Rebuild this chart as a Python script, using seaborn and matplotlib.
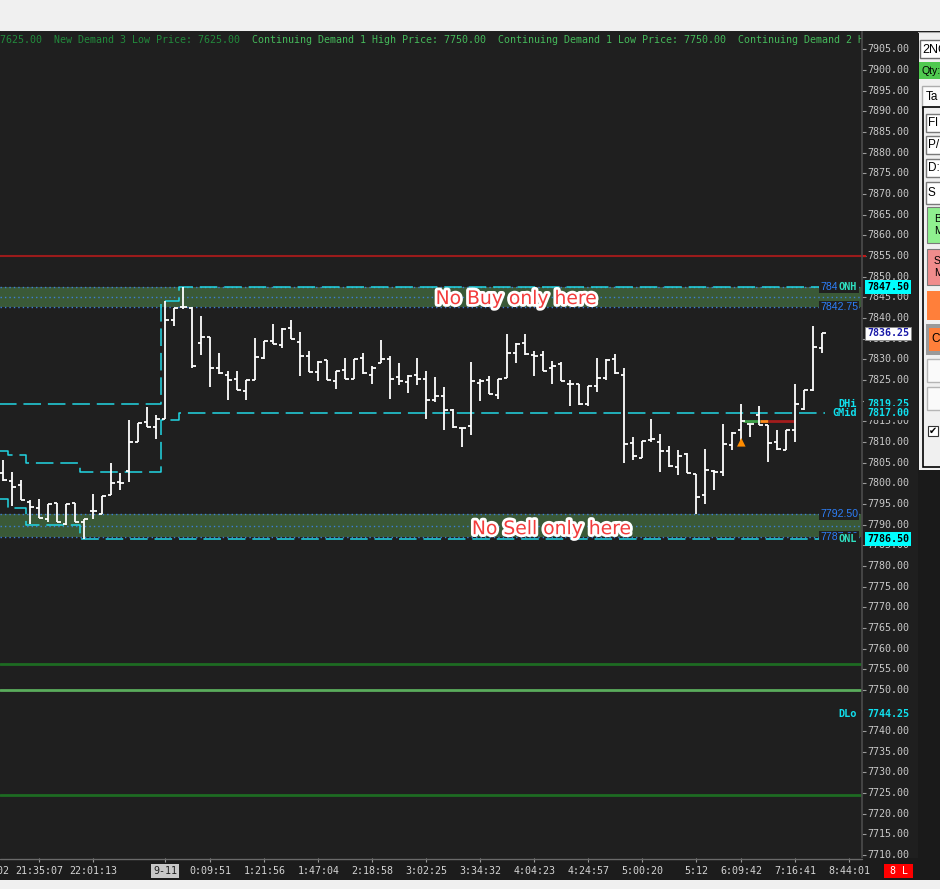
import matplotlib
matplotlib.use("Agg")
import matplotlib.pyplot as plt
import matplotlib.patheffects as pe
from matplotlib.patches import Rectangle
from matplotlib.transforms import blended_transform_factory
import numpy as np
import seaborn as sns

# ---- OHLC bars (one entry per bar) ----
bar_open = [7802.5, 7800.5, 7799.5, 7795.5, 7794.0, 7791.25, 7795.25, 7790.25, 7795.25, 7790.5,
            7793.25, 7792.5, 7797.25, 7800.25, 7803.0, 7810.0, 7814.75, 7813.5, 7815.5, 7839.5,
            7842.75, 7842.5, 7834.0, 7835.5, 7828.0, 7826.25, 7825.25, 7822.25, 7825.0, 7830.25,
            7834.5, 7833.5, 7837.5, 7834.25, 7830.75, 7827.0, 7829.75, 7824.75, 7827.5, 7825.25,
            7830.25, 7826.25, 7829.0, 7830.0, 7825.75, 7824.5, 7826.25, 7825.25, 7820.25, 7821.0,
            7817.75, 7813.25, 7813.75, 7824.25, 7825.0, 7821.25, 7825.5, 7831.5, 7834.0, 7831.0,
            7831.0, 7828.0, 7828.75, 7824.0, 7824.0, 7819.25, 7823.5, 7825.5, 7830.0, 7826.25,
            7809.75, 7806.0, 7810.5, 7810.0, 7807.75, 7804.0, 7807.0, 7802.25, 7797.25, 7803.0,
            7802.75, 7809.25, 7813.0, 7814.25, 7816.5, 7814.0, 7810.0, 7808.0, 7813.0, 7818.0,
            7822.5, 7832.75]
bar_high = [7805.5, 7802.75, 7800.75, 7796.0, 7796.25, 7795.0, 7795.25, 7795.0, 7795.25, 7791.25,
            7797.5, 7797.0, 7805.0, 7802.5, 7815.25, 7814.5, 7818.5, 7816.5, 7844.0, 7842.5,
            7847.5, 7842.75, 7840.5, 7835.5, 7831.5, 7827.25, 7827.25, 7825.0, 7835.25, 7834.5,
            7838.5, 7837.5, 7839.5, 7836.5, 7832.0, 7829.5, 7829.75, 7827.25, 7830.25, 7830.0,
            7831.5, 7828.25, 7834.75, 7830.75, 7829.0, 7826.25, 7830.25, 7827.25, 7825.75, 7823.25,
            7818.0, 7813.25, 7829.25, 7825.25, 7826.0, 7825.25, 7836.0, 7834.0, 7836.0, 7832.0,
            7832.0, 7829.5, 7829.25, 7825.0, 7824.0, 7823.5, 7830.25, 7830.0, 7831.25, 7828.0,
            7811.25, 7810.25, 7815.5, 7812.0, 7809.0, 7808.0, 7807.25, 7802.25, 7808.25, 7803.25,
            7814.25, 7812.5, 7819.25, 7814.25, 7818.75, 7814.0, 7813.0, 7813.0, 7824.0, 7822.5,
            7838.0, 7836.25]
bar_low = [7800.5, 7794.5, 7796.0, 7790.25, 7791.5, 7790.5, 7790.5, 7790.0, 7790.5, 7786.5,
           7791.25, 7792.5, 7797.25, 7798.25, 7800.25, 7810.0, 7813.5, 7810.75, 7815.5, 7838.0,
           7842.25, 7828.0, 7831.0, 7823.25, 7826.5, 7820.25, 7822.5, 7820.25, 7825.0, 7830.0,
           7833.75, 7832.75, 7835.0, 7826.0, 7827.0, 7824.75, 7825.0, 7822.75, 7825.25, 7825.25,
           7826.5, 7824.0, 7829.0, 7820.5, 7823.75, 7821.75, 7823.75, 7815.5, 7819.75, 7813.0,
           7813.25, 7808.75, 7811.75, 7820.0, 7821.5, 7820.5, 7825.5, 7829.0, 7831.0, 7826.0,
           7827.25, 7824.0, 7824.75, 7818.75, 7819.0, 7818.75, 7822.0, 7825.0, 7826.5, 7805.0,
           7805.5, 7806.0, 7810.0, 7802.75, 7804.0, 7802.0, 7802.5, 7792.5, 7795.0, 7798.25,
           7801.75, 7808.0, 7809.25, 7811.25, 7814.0, 7805.25, 7808.0, 7808.0, 7810.0, 7817.75,
           7822.25, 7831.5]
bar_close = [7800.75, 7799.0, 7796.0, 7794.25, 7791.5, 7795.0, 7790.5, 7795.0, 7790.5, 7791.25,
             7793.25, 7797.0, 7800.0, 7800.0, 7810.0, 7814.5, 7813.5, 7815.5, 7839.5, 7842.5,
             7842.75, 7828.25, 7835.5, 7828.0, 7826.75, 7825.0, 7822.5, 7825.0, 7830.5, 7834.5,
             7833.75, 7837.25, 7835.0, 7830.75, 7827.0, 7829.25, 7825.0, 7827.25, 7825.25, 7830.0,
             7826.75, 7828.0, 7830.0, 7825.25, 7824.75, 7826.0, 7825.25, 7820.25, 7821.0, 7817.75,
             7813.5, 7813.25, 7824.75, 7824.75, 7821.5, 7825.25, 7831.5, 7833.75, 7831.25, 7830.75,
             7827.25, 7828.25, 7824.75, 7824.0, 7819.25, 7823.5, 7825.5, 7829.75, 7826.75, 7809.5,
             7806.5, 7810.25, 7810.75, 7807.75, 7804.25, 7806.5, 7802.5, 7796.75, 7803.25, 7802.75,
             7809.5, 7812.25, 7815.0, 7814.25, 7814.0, 7809.75, 7808.25, 7813.0, 7819.25, 7822.5,
             7833.0, 7836.25]

# developing overnight high / mid / low (step paths, bar units vs price)
dev_high_x = [-0.5, 17.5, 17.5, 19.5, 19.5, 90.7]
dev_high_y = [7819.25, 7819.25, 7844.0, 7844.0, 7847.5, 7847.5]
dev_mid_x = [-0.5, 0.5, 0.5, 2.5, 2.5, 8.5, 8.5, 17.5, 17.5, 19.5, 19.5, 91.3]
dev_mid_y = [7807.75, 7807.75, 7806.75, 7806.75, 7805.0, 7805.0, 7802.75, 7802.75,
             7815.25, 7815.25, 7817.0, 7817.0]
dev_low_x = [-0.5, 0.5, 0.5, 2.5, 2.5, 8.5, 8.5, 90.7]
dev_low_y = [7796.25, 7796.25, 7794.0, 7794.0, 7790.0, 7790.0, 7786.5, 7786.5]

# zones and fixed levels
supply_zone = (7842.75, 7847.5)
demand_zone = (7787.0, 7792.5)
red_level = 7855.0
green_levels = [7756.25, 7750.0, 7724.5]
green_colors = ["#1d6b22", "#5aac5c", "#1d6b22"]

# trade markers
trade_segments = [(82.2, 84.1), (84.1, 85.0), (85.0, 88.0)]
trade_colors = ["#3fa34a", "#ff8a1c", "#a31c1c"]
trade_level = 7815.0
entry_bar, entry_price = 82, 7809.9

# right-hand labels
level_names = ["ONH", "DHi", "GMid", "ONL", "DLo"]
level_values = [7847.5, 7819.25, 7817.0, 7786.5, 7744.25]
level_colors = ["#2fe0c0", "#10e0ee", "#10e0ee", "#2fe0c0", "#10e0ee"]

price_ticks = np.arange(7710, 7906, 5)
time_bars = [-2, 4, 10, 18, 23, 29, 35, 41, 47, 53, 59, 65, 71, 77, 82, 88, 94]
time_labels = ["20:58:02", "21:35:07", "22:01:13", "9-11", "0:09:51", "1:21:56", "1:47:04",
               "2:18:58", "3:02:25", "3:34:32", "4:04:23", "4:24:57", "5:00:20", "5:12",
               "6:09:42", "7:16:41", "8:44:01"]

header_1 = "7625.00  New Demand 3 Low Price: 7625.00"
header_2 = ("Continuing Demand 1 High Price: 7750.00  Continuing Demand 1 Low Price: 7750.00  "
            "Continuing Demand 2 High Price: 7750.00")

BG = "#1f1f1f"
CYAN = "#22d6e4"
MONO = "DejaVu Sans Mono"

sns.set_theme(style="dark", rc={"axes.facecolor": BG, "axes.grid": False})
plt.rcParams["font.family"] = ["DejaVu Sans"]

W, H = 940, 889


def frac(x0, y0, x1, y1):
    return [x0 / W, 1 - y1 / H, (x1 - x0) / W, (y1 - y0) / H]


fig = plt.figure(figsize=(W / 100, H / 100), dpi=100)
fig.patch.set_facecolor("#f0f0f0")

# window chrome drawn in pixel space underneath everything
ui = fig.add_axes([0, 0, 1, 1])
ui.set_xlim(0, W)
ui.set_ylim(H, 0)
ui.axis("off")
ui.set_zorder(0)
ui.add_patch(Rectangle((0, 31), W, 849, fc="#1a1a1a", ec="none"))
ui.hlines(31.5, 0, W, color="#a8a8a8", lw=0.8)
ui.add_patch(Rectangle((919, 33), 21, 437, fc="#f0f0f0", ec="none"))
ui.add_patch(Rectangle((920, 40), 22, 18, fc="white", ec="#6d6d6d", lw=1))
ui.text(922, 49.5, "2NQU8", va="center", ha="left", fontsize=9, family="Liberation Sans", color="black")
ui.add_patch(Rectangle((919, 62), 23, 17, fc="#4fc94f", ec="none"))
ui.text(921, 70.5, "Qty:", va="center", fontsize=7.5, family="Liberation Sans", color="black")
ui.add_patch(Rectangle((922, 86), 20, 22, fc="#fbfbfb", ec="#adadad", lw=1))
ui.text(926, 97, "Ta", va="center", fontsize=8.5, family="Liberation Sans", color="black")
ui.add_patch(Rectangle((923, 107), 19, 360, fc="#f0f0f0", ec="black", lw=1.2))
for y0, h, lab in [(114, 18, "Fl"), (136, 18, "P/"), (159, 18, "D:"), (182, 22, "S")]:
    ui.add_patch(Rectangle((926, y0), 16, h, fc="white", ec="#7a7a7a", lw=1))
    ui.text(928, y0 + h / 2, lab, va="center", fontsize=8.5, family="Liberation Sans", color="black")
ui.add_patch(Rectangle((927, 207), 15, 36, fc="#8ff08f", ec="#7a7a7a", lw=0.8))
ui.text(934, 225, "B\nM", va="center", ha="left", fontsize=7.5, family="Liberation Sans", color="black")
ui.add_patch(Rectangle((927, 249), 15, 36, fc="#f08c8c", ec="#7a7a7a", lw=0.8))
ui.text(934, 267, "S\nM", va="center", ha="left", fontsize=7.5, family="Liberation Sans", color="black")
ui.add_patch(Rectangle((927, 291), 15, 29, fc="#ff7f3a", ec="none"))
ui.add_patch(Rectangle((926, 324), 16, 31, fc="#9a9a9a", ec="none"))
ui.add_patch(Rectangle((929, 328), 13, 23, fc="#ff7f3a", ec="none"))
ui.text(931, 339.5, "C", va="center", fontsize=8.5, family="Liberation Sans", color="black")
for y0 in (359, 387):
    ui.add_patch(Rectangle((927, y0), 15, 23, fc="#fafafa", ec="#b5b5b5", lw=1))
ui.add_patch(Rectangle((928, 426), 10, 10, fc="white", ec="#333333", lw=0.8))
ui.text(933, 431, "\u2714", va="center", ha="center", fontsize=7, color="black")
ui.add_patch(Rectangle((884, 864), 29, 14, fc="#ff0000", ec="none"))
ui.text(898.5, 871, "8 L", va="center", ha="center", fontsize=7.2, family=MONO, color="white")

# ---- main price chart ----
ax = fig.add_axes(frac(0, 32, 862, 858))
ax.set_zorder(2)
ax.set_facecolor(BG)
ylim = (7709.3, 7909.2)
xlim = (-3.3 / 9, (862 - 3.3) / 9)
ax.set_xticks([])
ax.set_yticks([])
ax.set_xlim(*xlim)
ax.set_ylim(*ylim)
for s in ax.spines.values():
    s.set_visible(False)

for lo, hi in (supply_zone, demand_zone):
    ax.axhspan(lo, hi, color="#3a5937", lw=0, zorder=1)
    for lv in (lo, (lo + hi) / 2, hi):
        ax.axhline(lv, color="#3d7fd6", ls=(0, (1, 2.2)), lw=1.0, zorder=1.5)

ax.axhline(red_level, color="#9b1b1b", lw=1.5, zorder=2)
for lv, c in zip(green_levels, green_colors):
    ax.axhline(lv, color=c, lw=2.0, zorder=2)

for xs, ys in [(dev_high_x, dev_high_y), (dev_mid_x, dev_mid_y), (dev_low_x, dev_low_y)]:
    sns.lineplot(x=xs, y=ys, ax=ax, sort=False, estimator=None, color=CYAN, lw=1.1, zorder=3)
    ax.lines[-1].set_dashes((11.5, 4.5))

x = np.arange(len(bar_open))
ax.vlines(x, bar_low, bar_high, color="white", lw=1.3, zorder=4)
ax.hlines(bar_open, x - 0.42, x, color="white", lw=1.3, zorder=4)
ax.hlines(bar_close, x, x + 0.42, color="white", lw=1.3, zorder=4)

for (a, b), c in zip(trade_segments, trade_colors):
    ax.hlines(trade_level, a, b, color=c, lw=2.0, zorder=3.5)
sns.scatterplot(x=[entry_bar], y=[entry_price], ax=ax, marker="^", s=38, color="#ff8c00",
                edgecolor="none", zorder=5)
ax.set_xlim(*xlim)
ax.set_ylim(*ylim)

outline = [pe.Stroke(linewidth=4, foreground="white"), pe.Normal()]
ax.text(57.0, 7844.7, "No Buy only here", ha="center", va="center", fontsize=13.5,
        color="#f23c3c", path_effects=outline, zorder=6)
ax.text(60.9, 7789.0, "No Sell only here", ha="center", va="center", fontsize=13.5,
        color="#f23c3c", path_effects=outline, zorder=6)

tr = blended_transform_factory(ax.transAxes, ax.transData)
for lv in (supply_zone[1], supply_zone[0], demand_zone[1], demand_zone[0]):
    ax.text(820 / 862, lv, f"{lv:.2f}", transform=tr, ha="left", va="center", fontsize=7.6,
            family="Liberation Sans", color="#2d7ff9", zorder=6, clip_on=True,
            bbox=dict(boxstyle="square,pad=0.1", fc=BG, ec="none"))
for name, lv, c in zip(level_names, level_values, level_colors):
    ax.text(857 / 862, lv, name, transform=tr, ha="right", va="center", fontsize=7.4,
            family=MONO, weight="bold", color=c, zorder=7,
            bbox=dict(boxstyle="square,pad=0.12", fc=BG, ec="none"))

ax.text(0.0, 1 - 8 / 826, header_1, transform=ax.transAxes, ha="left", va="center",
        fontsize=7.18, family=MONO, color="#228a3c", clip_on=True, zorder=6)
ax.text(252 / 862, 1 - 8 / 826, header_2, transform=ax.transAxes, ha="left", va="center",
        fontsize=7.18, family=MONO, color="#45b95a", clip_on=True, zorder=6)

# ---- price scale ----
pax = fig.add_axes(frac(862, 32, 918, 858))
pax.set_zorder(2)
pax.set_facecolor(BG)
pax.set_xticks([])
pax.set_yticks(price_ticks)
pax.set_xlim(0, 1)
pax.set_ylim(*ylim)
pax.tick_params(axis="y", left=True, direction="in", length=3, width=0.8, color="#9a9a9a",
                labelleft=False)
for k, s in pax.spines.items():
    s.set_visible(k == "left")
pax.spines["left"].set_color("#4a4a4a")
ptr = blended_transform_factory(pax.transAxes, pax.transData)
for p in price_ticks:
    pax.text(0.09, p, f"{p:.2f}", transform=ptr, ha="left", va="center", fontsize=7.2,
             family=MONO, color="#c8c8c8")
pax.hlines(red_level, 0, 0.07, color="#c01818", lw=1.5)

highlights = [(7847.5, "black", "#00ffff", 0.18), (7836.25, "#1a1aa8", "white", 0.18),
              (7819.25, "#10e0ee", BG, 0.3), (7817.0, "#10e0ee", BG, 0.18),
              (7786.5, "black", "#00ffff", 0.18), (7744.25, "#10e0ee", BG, 0.4)]
for p, tc, fc, pad in highlights:
    pax.text(0.09, p, f"{p:.2f}", transform=ptr, ha="left", va="center", fontsize=7.2,
             family=MONO, weight="bold", color=tc, zorder=5,
             bbox=dict(boxstyle=f"square,pad={pad}", fc=fc,
                       ec="#888888" if fc == "white" else "none", lw=0.6))

# ---- time scale ----
tax = fig.add_axes(frac(0, 858, 882, 880))
tax.set_zorder(2)
tax.set_facecolor("#1c1c1c")
tax.set_yticks([])
tax.set_xticks(time_bars)
tax.set_xlim(xlim[0], (882 - 3.3) / 9)
tax.set_ylim(0, 1)
tax.tick_params(axis="x", top=True, bottom=False, direction="in", length=3, width=0.8,
                color="#9a9a9a", labelbottom=False)
for s in tax.spines.values():
    s.set_visible(False)
tax.axhline(0.97, 0, 862 / 882, color="#6a6a6a", lw=1)
for b, lab in zip(time_bars, time_labels):
    if lab == "9-11":
        tax.text(b, 0.42, lab, ha="center", va="center", fontsize=7.2, family=MONO,
                 color="#1f1f1f", clip_on=True,
                 bbox=dict(boxstyle="square,pad=0.2", fc="#c8c8c8", ec="none"))
    else:
        tax.text(b, 0.42, lab, ha="center", va="center", fontsize=7.2, family=MONO,
                 color="#d4d4d4", clip_on=True)

fig.savefig("out.png", dpi=100, facecolor=fig.get_facecolor())
